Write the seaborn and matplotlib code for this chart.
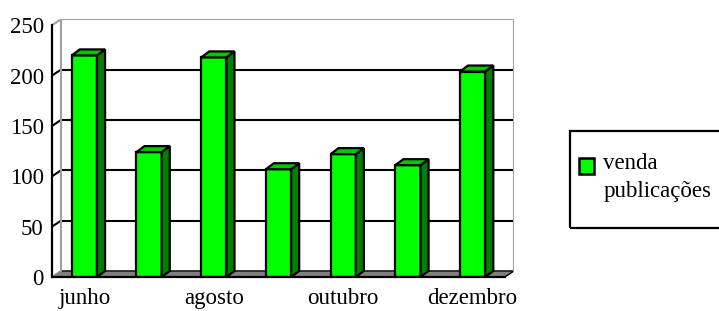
import numpy as np
import pandas as pd
import seaborn as sns
import matplotlib.pyplot as plt
from matplotlib.patches import Polygon, Rectangle
from matplotlib.legend_handler import HandlerPatch

# dados
meses = ["junho", "julho", "agosto", "setembro", "outubro", "novembro", "dezembro"]
vendas = [220, 124, 218, 107, 122, 111, 204]
rotulos_x = ["junho", "", "agosto", "", "outubro", "", "dezembro"]
yticks = [0, 50, 100, 150, 200, 250]
serie = "venda\npublicações"

df = pd.DataFrame({"mes": meses, "venda": vendas})

sns.set_style("white")
plt.rcParams["font.family"] = ["Liberation Serif", "DejaVu Serif"]
plt.rcParams["font.size"] = 16.5
plt.rcParams["text.color"] = "black"
plt.rcParams["xtick.color"] = "black"
plt.rcParams["ytick.color"] = "black"

W, H = 719, 311
fig = plt.figure(figsize=(W / 100, H / 100), dpi=100)

dwx, dwy = 0.14, 6      # profundidade da parede
dbx, dby = 0.125, 6     # profundidade das barras
ax = fig.add_axes([52 / W, 34 / H, 462 / W, 257.8 / H])

frente = "#00ff00"
lado = "#008000"
topo = "#00c800"
lw_barra = 1.6

sns.barplot(data=df, x="mes", y="venda", color=frente, saturation=1, width=0.39,
            edgecolor="black", linewidth=lw_barra, ax=ax, zorder=5)

n = len(meses)
x0, x1 = -0.5, n - 0.5
ymax = yticks[-1]

# chao
ax.add_patch(Polygon([(x0, 0), (x1, 0), (x1 + dwx, dwy), (x0 + dwx, dwy)],
                     closed=True, facecolor="#808080", edgecolor="black", lw=1, zorder=1))
# grades na parede do fundo e na parede esquerda
for v in yticks[1:-1]:
    ax.plot([x0 + dwx, x1 + dwx], [v + dwy, v + dwy], color="black", lw=1.5, zorder=2)
    ax.plot([x0, x0 + dwx], [v, v + dwy], color="black", lw=1.5, zorder=2)
# contorno das paredes
cinza = "#a0a0a0"
ax.plot([x0 + dwx, x0 + dwx, x1 + dwx, x1 + dwx], [dwy, ymax + dwy, ymax + dwy, dwy],
        color=cinza, lw=1.5, zorder=2)
ax.plot([x0, x0 + dwx], [ymax, ymax + dwy], color=cinza, lw=1.5, zorder=2)
ax.plot([x0, x0 + dwx], [0, dwy], color=cinza, lw=1, zorder=2)

# faces laterais e de cima das barras
for p in list(ax.patches):
    if not isinstance(p, Rectangle):
        continue
    bx, bw, bh = p.get_x(), p.get_width(), p.get_height()
    if bh <= 0:
        continue
    xr = bx + bw
    ax.add_patch(Polygon([(xr, 0), (xr + dbx, dby), (xr + dbx, bh + dby), (xr, bh)],
                         closed=True, facecolor=lado, edgecolor="black", lw=lw_barra, zorder=5))
    ax.add_patch(Polygon([(bx, bh), (xr, bh), (xr + dbx, bh + dby), (bx + dbx, bh + dby)],
                         closed=True, facecolor=topo, edgecolor="black", lw=lw_barra, zorder=5))

ax.set_xlim(x0, x1 + dwx)
ax.set_ylim(0, ymax + dwy)
ax.set_xlabel("")
ax.set_ylabel("")
ax.set_yticks(yticks)
ax.set_xticks(range(n))
ax.set_xticklabels(rotulos_x)
ax.set_xticks(np.arange(x0, x1 + 0.01, 1), minor=True)
ax.tick_params(axis="x", which="major", length=0, pad=8)
ax.tick_params(axis="x", which="minor", length=4, width=1.5, color="black", direction="out")
ax.tick_params(axis="y", length=4, width=1.5, color="black", direction="out", pad=2)
for s in ["top", "right"]:
    ax.spines[s].set_visible(False)
for s in ["left", "bottom"]:
    ax.spines[s].set_color("black")
    ax.spines[s].set_linewidth(1.6)
    ax.spines[s].set_zorder(6)
ax.spines["left"].set_bounds(0, ymax)
ax.spines["bottom"].set_bounds(x0, x1)
ax.patch.set_alpha(0)

# legenda
esp = 1.45


def quadrado(legend, orig_handle, xdescent, ydescent, width, height, fontsize):
    return Rectangle((-xdescent, -ydescent + 0.5 * 0.9 * esp * fontsize - 0.5 * height + 3),
                     width, height)


h = Rectangle((0, 0), 1, 1, facecolor=frente, edgecolor="black", lw=1.8)
leg = fig.legend([h], [serie], loc="upper left", bbox_to_anchor=(579 / W, 1 - 153 / H),
                 frameon=False, borderpad=0, borderaxespad=0, handlelength=0.66,
                 handleheight=0.66, handletextpad=0.4, fontsize=16.5,
                 handler_map={Rectangle: HandlerPatch(patch_func=quadrado)})
leg.get_texts()[0].set_linespacing(esp)
fig.add_artist(Rectangle((570 / W, 1 - 228 / H), 175 / W, 97 / H, transform=fig.transFigure,
                         facecolor="none", edgecolor="black", lw=1.6))

fig.savefig("out.png", dpi=100)
